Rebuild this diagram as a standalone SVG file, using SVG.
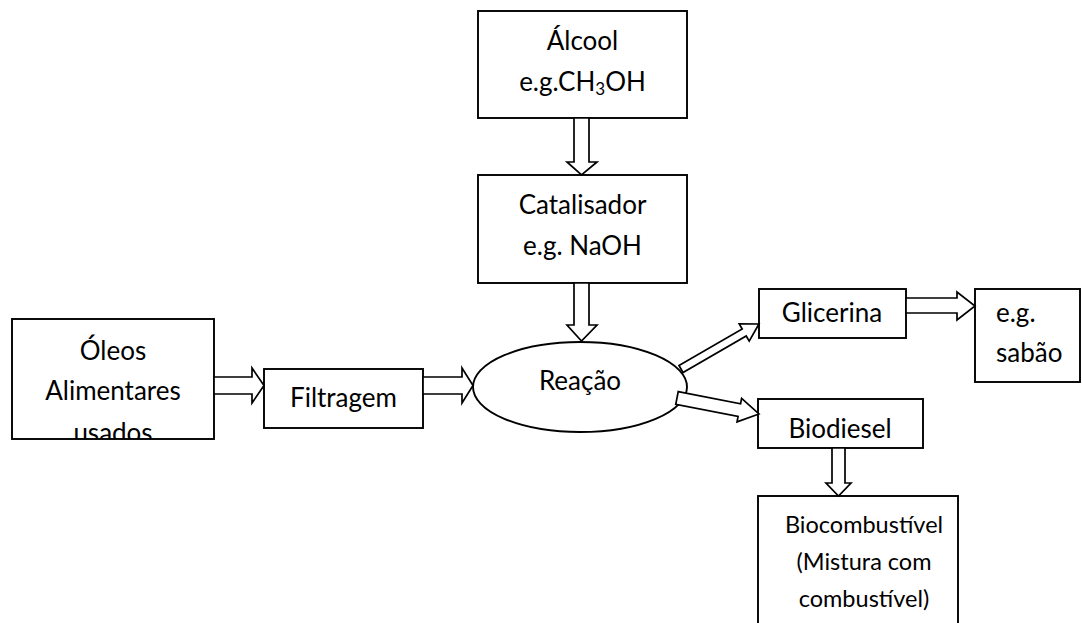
<svg xmlns="http://www.w3.org/2000/svg" width="1082" height="623" viewBox="0 0 1082 623">
  <style>
    .box { fill: #ffffff; stroke: #000000; stroke-width: 1.9; }
    .arrow { fill: #ffffff; stroke: #000000; stroke-width: 1.7; stroke-linejoin: miter; }
    .t { font-family: Lato, "Open Sans", sans-serif; font-size: 26px; fill: #000000; text-anchor: middle; }
    .s { font-family: Lato, "Open Sans", sans-serif; font-size: 23.5px; fill: #000000; text-anchor: middle; }
    .l { text-anchor: start; }
  </style>
  <defs>
    <clipPath id="clip-oleos">
      <rect x="12" y="319" width="202" height="120"/>
    </clipPath>
  </defs>
  <rect width="1082" height="623" fill="#ffffff"/>

  <g id="nodes">
    <g id="alcool">
      <rect class="box" x="478" y="11" width="209" height="107"/>
      <text class="t" x="582.5" y="50">Álcool</text>
      <text class="t" x="582.5" y="91">e.g.CH<tspan font-size="17" dy="4">3</tspan><tspan dy="-4">OH</tspan></text>
    </g>
    <g id="catalisador">
      <rect class="box" x="478" y="175" width="209" height="108"/>
      <text class="t" x="582.5" y="214">Catalisador</text>
      <text class="t" x="582.5" y="255">e.g. NaOH</text>
    </g>
    <g id="oleos">
      <rect class="box" x="12" y="319" width="202" height="120"/>
      <g clip-path="url(#clip-oleos)">
        <text class="t" x="113" y="360">Óleos</text>
        <text class="t" x="113" y="400">Alimentares</text>
        <text class="t" x="113" y="442">usados</text>
      </g>
    </g>
    <g id="filtragem">
      <rect class="box" x="264" y="369" width="159" height="59"/>
      <text class="t" x="343.5" y="407">Filtragem</text>
    </g>
    <g id="reacao">
      <ellipse class="box" cx="580" cy="387" rx="107" ry="45"/>
      <text class="t" x="580" y="390">Reação</text>
    </g>
    <g id="glicerina">
      <rect class="box" x="759" y="289" width="147" height="49"/>
      <text class="t" x="832" y="322">Glicerina</text>
    </g>
    <g id="sabao">
      <rect class="box" x="975" y="289" width="105" height="93"/>
      <text class="t l" x="996" y="322">e.g.</text>
      <text class="t l" x="996" y="362">sabão</text>
    </g>
    <g id="biodiesel">
      <rect class="box" x="758" y="399" width="165" height="49"/>
      <text class="t" x="840" y="438">Biodiesel</text>
    </g>
    <g id="biocombustivel">
      <rect class="box" x="758" y="496" width="200" height="140"/>
      <text class="s" x="864" y="533">Biocombustível</text>
      <text class="s" x="864" y="570">(Mistura com</text>
      <text class="s" x="864" y="607">combustível)</text>
    </g>
  </g>

  <g id="connectors">
    <!-- Álcool -> Catalisador -->
    <polygon class="arrow" points="574,118 589,118 589,162 597,162 581.5,175 567,162 574,162"/>
    <!-- Catalisador -> Reação -->
    <polygon class="arrow" points="574,283 589,283 589,325 597,325 581.5,341 567,325 574,325"/>
    <!-- Óleos -> Filtragem -->
    <polygon class="arrow" points="214,377 252,377 252,368 264,385.5 252,403 252,394 214,394"/>
    <!-- Filtragem -> Reação -->
    <polygon class="arrow" points="423,377 462,377 462,368 473,385.5 462,403 462,394 423,394"/>
    <!-- Glicerina -> sabão -->
    <polygon class="arrow" points="906,298 957,298 957,292 975,306 957,320 957,313 906,313"/>
    <!-- Biodiesel -> Biocombustível -->
    <polygon class="arrow" points="832,448 845,448 845,483 851,483 838.5,496 826,483 832,483"/>
    <!-- Reação -> Glicerina -->
    <polygon class="arrow" transform="translate(681,369) rotate(-30)" points="0,-4 73,-4 73,-10 90,0 73,10 73,4 0,4"/>
    <!-- Reação -> Biodiesel -->
    <polygon class="arrow" transform="translate(677,398) rotate(11)" points="0,-6.5 63.5,-6.5 63.5,-12 83.5,0 63.5,12 63.5,6.5 0,6.5"/>
  </g>
</svg>
